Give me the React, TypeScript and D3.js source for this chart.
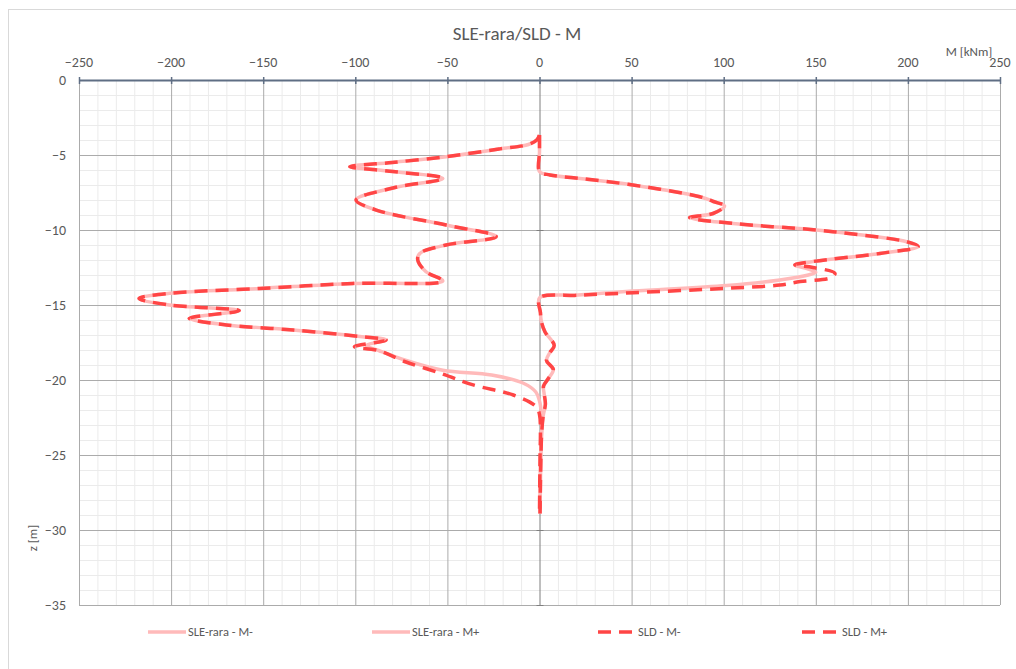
import React, { useRef, useEffect } from 'react'
import * as d3 from 'd3'

// [z (m), M (kNm)]
const sleMinus: [number, number][] = [
  [-3.67, 0], [-4.0, -1.5], [-4.3, -6], [-4.6, -22], [-5.11, -50.7], [-5.5, -80], [-5.78, -103],
  [-6.1, -79.6], [-6.56, -52.5], [-7.2, -79.6], [-8.0, -99.6], [-8.67, -88.6], [-9.67, -50.7],
  [-10.44, -23.5], [-11.0, -50.7], [-11.56, -65], [-12.0, -66.1], [-12.78, -61.6], [-13.4, -52.5],
  [-13.56, -101.4], [-13.9, -151.9], [-14.22, -200.9], [-14.56, -217.4], [-15.0, -201], [-15.38, -163],
  [-15.89, -190.2], [-16.33, -170], [-16.67, -133.7], [-17.1, -97.5], [-17.33, -83.3], [-17.7, -94],
  [-18.05, -87], [-18.7, -72.4], [-19.35, -52.5], [-19.67, -26], [-20.2, -9], [-20.8, -2],
  [-21.4, 0], [-22.2, 1], [-23.2, 1.2], [-25, 0.6], [-28.9, 0.2],
]

const slePlus: [number, number][] = [
  [-3.67, 0], [-4.8, 0], [-6.1, 0], [-6.33, 5.7], [-6.56, 22], [-7.0, 50.7], [-7.78, 87], [-8.1, 94.4],
  [-8.4, 100.5], [-8.9, 94.2], [-9.17, 81.5], [-9.56, 105], [-10.0, 150.4], [-10.22, 166.8],
  [-10.78, 199.3], [-11.1, 205.6], [-11.56, 184.8], [-12.1, 148.5], [-12.33, 138.6], [-12.6, 146],
  [-12.82, 150], [-13.0, 146], [-13.33, 130.5], [-13.7, 101.6], [-14.07, 50.7], [-14.33, 21],
  [-14.53, 0], [-15.5, 0.5], [-16.1, 1], [-16.8, 3], [-17.7, 8], [-18.2, 5.5], [-18.7, 3.8],
  [-19.3, 7.5], [-19.9, 4.8], [-20.4, 2.2], [-20.9, 2.5], [-21.6, 3.2], [-22.4, 2], [-23.5, 1.2],
  [-25, 0.8], [-27, 0.5], [-28.9, 0.3],
]

const sldMinus: [number, number][] = [
  [-3.67, 0], [-4.0, -1.5], [-4.3, -6], [-4.6, -22], [-5.11, -50.7], [-5.5, -80], [-5.78, -103],
  [-6.1, -79.6], [-6.56, -52.5], [-7.2, -79.6], [-8.0, -99.6], [-8.67, -88.6], [-9.67, -50.7],
  [-10.44, -23.5], [-11.0, -50.7], [-11.56, -65], [-12.0, -66.1], [-12.78, -61.6], [-13.4, -52.5],
  [-13.56, -101.4], [-13.9, -151.9], [-14.22, -200.9], [-14.56, -217.4], [-15.0, -201], [-15.38, -163],
  [-15.89, -190.2], [-16.33, -170], [-16.67, -133.7], [-17.1, -97.5], [-17.33, -83.3], [-17.78, -100.5],
  [-18.05, -87], [-18.8, -72.5], [-19.6, -52.5], [-20.33, -36], [-21.0, -14.2], [-21.78, -1.8],
  [-22.3, 0], [-23.5, 0.5], [-25, 0.3], [-28.9, 0],
]

const sldPlus: [number, number][] = [
  [-3.67, 0], [-4.8, 0], [-6.1, 0], [-6.33, 5.7], [-6.56, 22], [-7.0, 50.7], [-7.78, 87], [-8.1, 94.4],
  [-8.4, 100.5], [-8.9, 94.2], [-9.17, 81.5], [-9.56, 105], [-10.0, 150.4], [-10.22, 166.8],
  [-10.78, 199.3], [-11.1, 205.6], [-11.56, 184.8], [-12.1, 148.5], [-12.33, 138.6], [-12.5, 148.5],
  [-12.88, 160.4], [-13.16, 158.6], [-13.44, 141.5], [-13.67, 130.5], [-13.89, 101.5], [-14.18, 51],
  [-14.35, 21.7], [-14.53, 0], [-15.5, 0.5], [-16.1, 1], [-16.8, 3], [-17.7, 8], [-18.2, 5.5],
  [-18.7, 3.8], [-19.3, 7.5], [-19.9, 4.8], [-20.4, 2.2], [-20.9, 2.5], [-21.6, 3.2], [-22.4, 2],
  [-23.5, 1.2], [-25, 0.8], [-27, 0.5], [-28.9, 0.3],
]

const xTicks = [-250, -200, -150, -100, -50, 0, 50, 100, 150, 200, 250]
const yTicks = [0, -5, -10, -15, -20, -25, -30, -35]

const seriesNames = ['SLE-rara - M-', 'SLE-rara - M+', 'SLD - M-', 'SLD - M+']

const FONT = "Carlito, 'Liberation Sans Narrow', 'Liberation Sans', sans-serif"
const SLE_COLOR = '#ffbaba'
const SLD_COLOR = '#ff4545'

export default function App() {
  const svgRef = useRef<SVGSVGElement | null>(null)
  const width = 1016
  const height = 669

  useEffect(() => {
    if (!svgRef.current) return
    const svg = d3.select(svgRef.current)
    svg.selectAll('*').remove()

    const x = d3.scaleLinear().domain([-250, 250]).range([79, 1000])
    const y = d3.scaleLinear().domain([0, -35]).range([80, 605])

    svg.append('rect').attr('width', width).attr('height', height).attr('fill', '#fff')
    svg.append('rect')
      .attr('x', 8.5).attr('y', 9.5).attr('width', 1012).attr('height', 670)
      .attr('fill', 'none').attr('stroke', '#d9d9d9')

    // minor grid
    const g = svg.append('g')
    g.selectAll('line.mx')
      .data(d3.range(-250, 251, 10).filter(v => v % 50 !== 0))
      .enter().append('line')
      .attr('x1', d => x(d) + 0.5).attr('x2', d => x(d) + 0.5)
      .attr('y1', y(0)).attr('y2', y(-35))
      .attr('stroke', '#ebebeb')
    g.selectAll('line.my')
      .data(d3.range(0, -36, -1).filter(v => v % 5 !== 0))
      .enter().append('line')
      .attr('x1', x(-250)).attr('x2', x(250))
      .attr('y1', d => y(d) + 0.5).attr('y2', d => y(d) + 0.5)
      .attr('stroke', '#ebebeb')

    // major grid
    g.selectAll('line.Mx')
      .data(xTicks.filter(v => v !== 0))
      .enter().append('line')
      .attr('x1', d => x(d) + 0.5).attr('x2', d => x(d) + 0.5)
      .attr('y1', y(0)).attr('y2', y(-35))
      .attr('stroke', '#ababab')
    g.selectAll('line.My')
      .data(yTicks.filter(v => v !== 0))
      .enter().append('line')
      .attr('x1', x(-250)).attr('x2', x(250))
      .attr('y1', d => y(d) + 0.5).attr('y2', d => y(d) + 0.5)
      .attr('stroke', '#ababab')

    // vertical axis at M = 0
    g.append('line')
      .attr('x1', x(0) + 0.5).attr('x2', x(0) + 0.5)
      .attr('y1', y(0)).attr('y2', y(-35))
      .attr('stroke', '#7f7f7f')
    g.selectAll('line.yt')
      .data(yTicks.filter(v => v !== 0))
      .enter().append('line')
      .attr('x1', x(0) - 3).attr('x2', x(0) + 4)
      .attr('y1', d => y(d) + 0.5).attr('y2', d => y(d) + 0.5)
      .attr('stroke', '#7f7f7f')

    // top axis
    g.append('line')
      .attr('x1', x(-250)).attr('x2', x(250))
      .attr('y1', y(0) + 0.5).attr('y2', y(0) + 0.5)
      .attr('stroke', '#5f6e84').attr('stroke-width', 2)
    g.selectAll('line.xt')
      .data(xTicks)
      .enter().append('line')
      .attr('x1', d => x(d) + 0.5).attr('x2', d => x(d) + 0.5)
      .attr('y1', y(0) - 3).attr('y2', y(0) + 4)
      .attr('stroke', '#5f6e84').attr('stroke-width', 1.5)

    const txt = svg.append('g').attr('font-family', FONT).attr('fill', '#595959')
    txt.selectAll('text.xl')
      .data(xTicks)
      .enter().append('text')
      .attr('x', d => x(d)).attr('y', 67)
      .attr('text-anchor', 'middle').attr('font-size', 14)
      .text(d => d3.format('d')(d))
    txt.selectAll('text.yl')
      .data(yTicks)
      .enter().append('text')
      .attr('x', 66).attr('y', d => y(d) + 5)
      .attr('text-anchor', 'end').attr('font-size', 14)
      .text(d => d3.format('d')(d))

    txt.append('text')
      .attr('x', 517).attr('y', 40)
      .attr('text-anchor', 'middle').attr('font-size', 19)
      .text('SLE-rara/SLD - M')
    txt.append('text')
      .attr('x', 969).attr('y', 56)
      .attr('text-anchor', 'middle').attr('font-size', 13)
      .text('M [kNm]')
    txt.append('text')
      .attr('transform', 'translate(37,538) rotate(-90)')
      .attr('text-anchor', 'middle').attr('font-size', 13)
      .text('z [m]')

    const line = d3.line<[number, number]>()
      .x(d => x(d[1]))
      .y(d => y(d[0]))
      .curve(d3.curveCatmullRom.alpha(0.5))

    const plot = svg.append('g').attr('fill', 'none').attr('stroke-linecap', 'butt')
    ;[sleMinus, slePlus].forEach(s => {
      plot.append('path').attr('d', line(s))
        .attr('stroke', SLE_COLOR).attr('stroke-width', 3.5)
    })
    ;[sldMinus, sldPlus].forEach(s => {
      plot.append('path').attr('d', line(s))
        .attr('stroke', SLD_COLOR).attr('stroke-width', 3.5)
        .attr('stroke-dasharray', '13,8')
    })

    // legend
    const legendX = [148, 372, 598, 802]
    const lg = svg.append('g').attr('font-family', FONT)
    seriesNames.forEach((name, i) => {
      const isSld = i >= 2
      lg.append('line')
        .attr('x1', legendX[i]).attr('x2', legendX[i] + 38)
        .attr('y1', 632).attr('y2', 632)
        .attr('stroke', isSld ? SLD_COLOR : SLE_COLOR).attr('stroke-width', 3.5)
        .attr('stroke-dasharray', isSld ? '13,8' : null)
      lg.append('text')
        .attr('x', legendX[i] + 40).attr('y', 636)
        .attr('font-size', 12.5).attr('fill', '#595959')
        .text(name)
    })
  }, [])

  return (
    <svg
      ref={svgRef}
      width={width}
      height={height}
      style={{ position: 'absolute', left: 0, top: 0 }}
    />
  )
}
